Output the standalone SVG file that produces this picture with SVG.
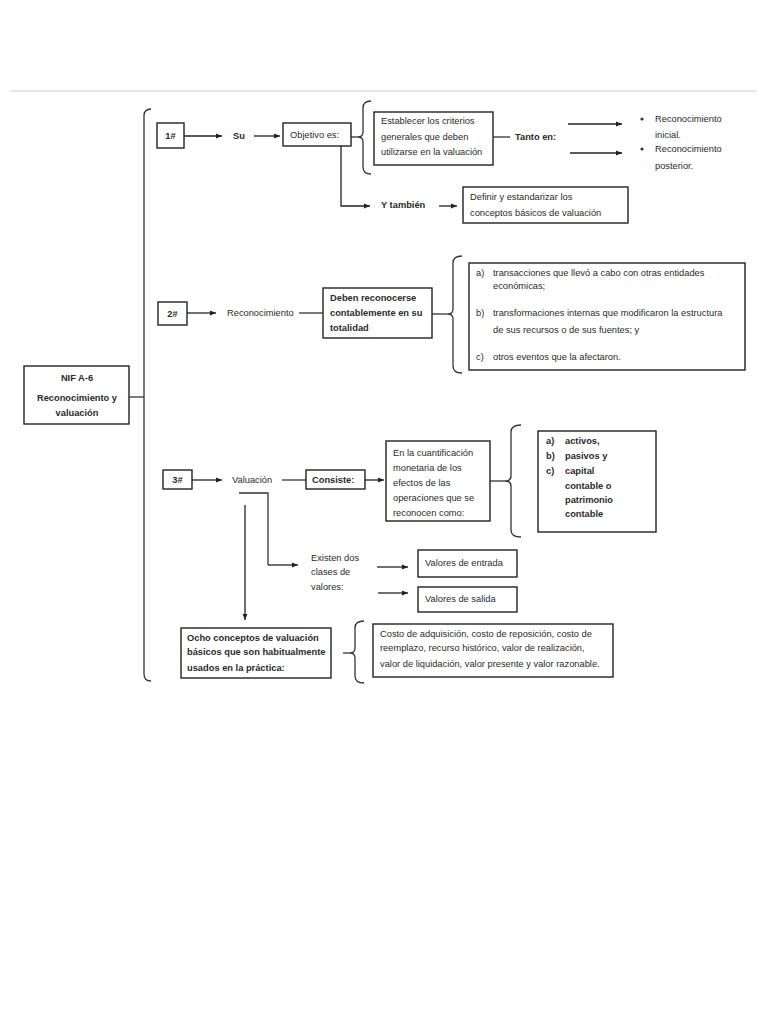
<svg xmlns="http://www.w3.org/2000/svg" width="768" height="1024" viewBox="0 0 768 1024">
<defs>
<marker id="ah" viewBox="0 0 10 10" refX="10" refY="5" markerWidth="6" markerHeight="6" orient="auto" markerUnits="userSpaceOnUse"><path d="M0,1 L10,5 L0,9 z" fill="#222"/></marker>
<style>
text{font-family:"Liberation Sans",Arial,sans-serif;font-size:9.3px;fill:#2a2a2a}
.b{font-weight:bold}
.m{text-anchor:middle}
.box{fill:#fff;stroke:#222;stroke-width:1.4}
.ln{fill:none;stroke:#333;stroke-width:1.3}
.ar{fill:none;stroke:#222;stroke-width:1.3;marker-end:url(#ah)}
</style>
</defs>
<rect width="768" height="1024" fill="#fff"/>
<line x1="10" y1="91" x2="757" y2="91" stroke="#ccc" stroke-width="1"/>

<g id="connectors">
<path class="ln" d="M151,109 Q144,109 144,116 L144,674 Q144,681 151,681"/>
<line class="ln" x1="129" y1="397" x2="144" y2="397"/>
<line class="ar" x1="184" y1="136" x2="222" y2="136"/>
<line class="ar" x1="254" y1="136" x2="280" y2="136"/>
<line class="ln" x1="351" y1="137" x2="358" y2="137"/>
<path class="ln" d="M371,101 Q363,101 363,108 L363,132 Q363,137 358,137 Q363,137 363,142 L363,167 Q363,174 371,174"/>
<path class="ar" d="M341,146 L341,206 L370,206"/>
<line class="ar" x1="439" y1="206" x2="457" y2="206"/>
<line class="ln" x1="493" y1="137" x2="510" y2="137"/>
<line class="ar" x1="568" y1="124" x2="622" y2="124"/>
<line class="ar" x1="570" y1="153" x2="622" y2="153"/>
<line class="ar" x1="187" y1="313" x2="216" y2="313"/>
<line class="ln" x1="299" y1="313" x2="323" y2="313"/>
<line class="ln" x1="432" y1="314" x2="448" y2="314"/>
<path class="ln" d="M462,256 Q453,256 453,263 L453,309 Q453,314 448,314 Q453,314 453,319 L453,366 Q453,373 462,373"/>
<line class="ar" x1="192" y1="480" x2="222" y2="480"/>
<line class="ln" x1="282" y1="480" x2="306" y2="480"/>
<line class="ar" x1="365" y1="480" x2="384" y2="480"/>
<line class="ln" x1="490" y1="481" x2="505" y2="481"/>
<path class="ln" d="M521,425 Q511,425 511,432 L511,476 Q511,481 505,481 Q511,481 511,486 L511,530 Q511,537 521,537"/>
<path class="ln" d="M239,493 L268,493 L268,565"/>
<path class="ar" d="M268,565 L298,565"/>
<line class="ar" x1="245" y1="505" x2="245" y2="620"/>
<line class="ar" x1="377" y1="567" x2="408" y2="567"/>
<line class="ar" x1="378" y1="593" x2="408" y2="593"/>
<line class="ln" x1="343" y1="653" x2="350" y2="653"/>
<path class="ln" d="M364,621 Q355,621 355,628 L355,648 Q355,653 350,653 Q355,653 355,658 L355,676 Q355,683 364,683"/>
</g>

<g id="nif">
<rect class="box" x="24" y="366" width="105" height="58"/>
<text class="b m" x="77" y="381">NIF A-6</text>
<text class="b m" x="77" y="401">Reconocimiento y</text>
<text class="b m" x="77" y="416">valuación</text>
</g>

<g id="n1">
<rect class="box" x="157" y="123" width="27" height="25"/>
<text class="b m" x="170.5" y="139">1#</text>
</g>
<g id="su"><text class="b" x="233" y="139">Su</text></g>
<g id="objetivo">
<rect class="box" x="283" y="123" width="68" height="23"/>
<text x="290" y="138">Objetivo es:</text>
</g>
<g id="establecer">
<rect class="box" x="374" y="112" width="119" height="53"/>
<text x="381" y="124">Establecer los criterios</text>
<text x="381" y="140">generales que deben</text>
<text x="381" y="155">utilizarse en la valuación</text>
</g>
<g id="tanto"><text class="b" x="515" y="140">Tanto en:</text></g>
<g id="rec-inicial">
<circle cx="642" cy="119" r="1.6" fill="#333"/>
<text x="655" y="122">Reconocimiento</text>
<text x="655" y="138">inicial.</text>
</g>
<g id="rec-posterior">
<circle cx="642" cy="149" r="1.6" fill="#333"/>
<text x="655" y="152">Reconocimiento</text>
<text x="655" y="169">posterior.</text>
</g>
<g id="ytambien"><text class="b" x="381" y="208">Y también</text></g>
<g id="definir">
<rect class="box" x="463" y="187" width="165" height="36"/>
<text x="470" y="200">Definir y estandarizar los</text>
<text x="470" y="216">conceptos básicos de valuación</text>
</g>

<g id="n2">
<rect class="box" x="158" y="302" width="29" height="23"/>
<text class="b m" x="172.5" y="317">2#</text>
</g>
<g id="reconocimiento"><text x="227" y="316">Reconocimiento</text></g>
<g id="deben">
<rect class="box" x="323" y="288" width="109" height="50"/>
<text class="b" x="330" y="301">Deben reconocerse</text>
<text class="b" x="330" y="316">contablemente en su</text>
<text class="b" x="330" y="331">totalidad</text>
</g>
<g id="lista-abc">
<rect class="box" x="469" y="263" width="276" height="107"/>
<text x="476" y="276">a)</text>
<text x="493" y="276">transacciones que llevó a cabo con otras entidades</text>
<text x="493" y="289">económicas;</text>
<text x="476" y="316">b)</text>
<text x="493" y="316">transformaciones internas que modificaron la estructura</text>
<text x="493" y="333">de sus recursos o de sus fuentes; y</text>
<text x="476" y="360">c)</text>
<text x="493" y="360">otros eventos que la afectaron.</text>
</g>

<g id="n3">
<rect class="box" x="163" y="470" width="29" height="19"/>
<text class="b m" x="177.5" y="483">3#</text>
</g>
<g id="valuacion"><text x="232" y="483">Valuación</text></g>
<g id="consiste">
<rect class="box" x="306" y="470" width="59" height="19"/>
<text class="b" x="312" y="483">Consiste:</text>
</g>
<g id="cuantificacion">
<rect class="box" x="386" y="441" width="104" height="80"/>
<text x="393" y="456">En la cuantificación</text>
<text x="393" y="471">monetaria de los</text>
<text x="393" y="486">efectos de las</text>
<text x="393" y="501">operaciones que se</text>
<text x="393" y="516">reconocen como:</text>
</g>
<g id="activos">
<rect class="box" x="538" y="431" width="118" height="101"/>
<text class="b" x="546" y="444">a)</text><text class="b" x="565" y="444">activos,</text>
<text class="b" x="546" y="459">b)</text><text class="b" x="565" y="459">pasivos y</text>
<text class="b" x="546" y="474">c)</text><text class="b" x="565" y="474">capital</text>
<text class="b" x="565" y="489">contable o</text>
<text class="b" x="565" y="503">patrimonio</text>
<text class="b" x="565" y="517">contable</text>
</g>
<g id="existen">
<text x="311" y="561">Existen dos</text>
<text x="311" y="575">clases de</text>
<text x="311" y="590">valores:</text>
</g>
<g id="entrada">
<rect class="box" x="418" y="550" width="99" height="27"/>
<text x="425" y="566">Valores de entrada</text>
</g>
<g id="salida">
<rect class="box" x="418" y="587" width="99" height="25"/>
<text x="425" y="602">Valores de salida</text>
</g>
<g id="ocho">
<rect class="box" x="181" y="628" width="150" height="50"/>
<text class="b" x="187" y="641">Ocho conceptos de valuación</text>
<text class="b" x="187" y="655">básicos que son habitualmente</text>
<text class="b" x="187" y="671">usados en la práctica:</text>
</g>
<g id="costos">
<rect class="box" x="373" y="624" width="240" height="53"/>
<text x="380" y="637">Costo de adquisición, costo de reposición, costo de</text>
<text x="380" y="651">reemplazo, recurso histórico, valor de realización,</text>
<text x="380" y="667">valor de liquidación, valor presente y valor razonable.</text>
</g>
</svg>
